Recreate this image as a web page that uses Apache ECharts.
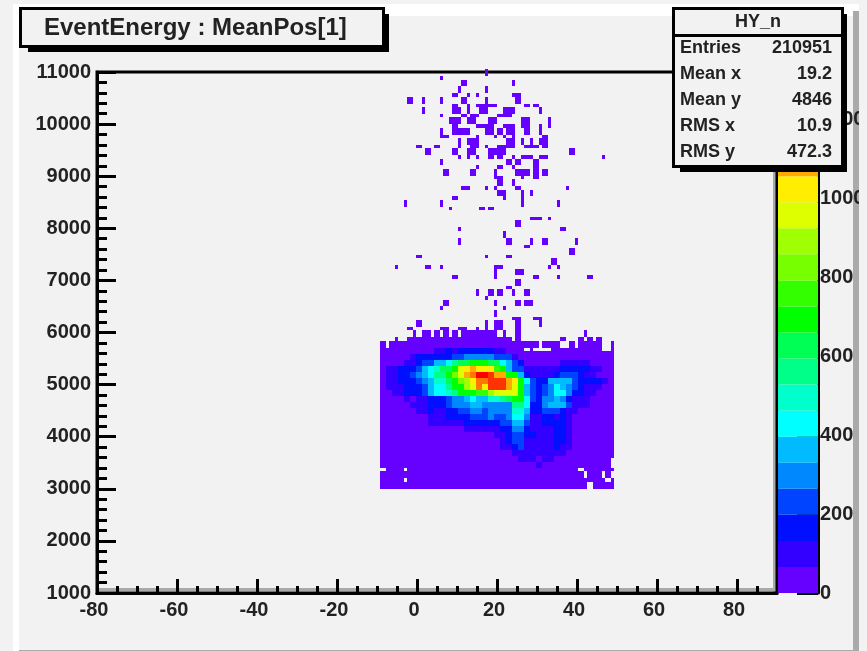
<!DOCTYPE html>
<html>
<head>
<meta charset="utf-8">
<style>html,body{margin:0;padding:0;background:#f2f2f2}#c{width:867px;height:651px}</style>
<script src="https://cdn.jsdelivr.net/npm/echarts@6/dist/echarts.min.js"></script>
</head>
<body>
<div id="c"></div>
<script>
// ---- labels ----
const titleText = 'EventEnergy : MeanPos[1]';
const statName = 'HY_n';
const statLabels = ['Entries', 'Mean x', 'Mean y', 'RMS x', 'RMS y'];
const statValues = ['210951', '19.2', '4846', '10.9', '472.3'];

// ---- axes ----
const xRange = [-80, 90];
const yRange = [1000, 11000];
const zTop = 1319;

// ---- colour levels (one per 1/20 of the z range) ----
const palette = ['#6600ff','#3300ff','#0010ff','#0044ff','#0088ff','#00bbff','#00ffff','#00ffcc','#00ff88','#00ff55',
                 '#00ff00','#33ff00','#77ff00','#a0ff00','#ddff00','#ffee00','#ffaa00','#ff7700','#ff3300','#ff0000'];

// ---- histogram binning (low-count bins are addressed by column and row index) ----
const xStart = -9.25, xStep = 0.75;
const yStart = 11230, yStep = 19.194;

// occupied low-count bins: [row from, row to, [col from, col to], ...]
const lowBins = [
 [9,16,[35,36]],[16,20,[20,21]],[20,26,[27,29],[44,45]],[26,33,[26,27],[35,36]],
 [33,37,[24,26],[29,30],[32,33],[44,47]],
 [37,44,[9,11],[14,15],[20,21],[27,29],[35,36],[45,47]],
 [44,47,[24,26],[29,30],[32,39],[48,50],[51,53]],
 [47,54,[14,15],[24,27],[29,30],[33,36],[41,45],[53,54]],
 [54,57,[20,21],[27,29],[30,33],[39,44]],
 [57,64,[23,27],[29,32],[36,39],[47,50],[56,57]],
 [64,68,[24,26],[32,38],[41,45],[47,50],[53,54],[56,57]],
 [68,75,[20,21],[24,30],[35,38],[39,41],[42,45],[48,50],[53,54]],
 [75,78,[20,23],[32,33],[38,39],[41,42],[44,45],[54,56]],
 [78,85,[26,27],[29,33],[42,45],[47,48],[50,51],[53,56]],
 [85,88,[12,14],[18,20],[26,27],[30,33],[35,36],[39,45],[48,53],[54,56]],
 [88,95,[15,17],[24,26],[29,32],[36,42],[63,65]],
 [95,99,[26,27],[29,30],[32,33],[36,38],[39,41],[44,45],[47,51],[53,56],[74,75]],
 [99,105,[20,21],[42,44],[45,47],[51,53]],
 [105,109,[32,33],[39,41],[44,45],[51,53]],
 [109,116,[21,23],[30,32],[38,39],[45,50],[51,53],[54,56]],
 [116,119,[38,41],[47,48],[51,53]],
 [119,126,[39,41],[44,45]],
 [126,130,[27,30],[35,36],[38,39],[45,47],[62,63]],
 [130,136,[39,42],[47,48],[50,51]],
 [136,140,[24,26],[41,42],[47,48]],
 [140,147,[8,9],[20,21],[47,48],[59,60]],
 [147,150,[23,24],[33,35],[36,38]],
 [157,160,[50,54],[56,57]],
 [160,167,[45,47]],
 [167,171,[26,27],[60,62]],
 [171,178,[41,42]],
 [178,185,[26,27],[42,44],[50,51],[54,56],[65,66]],
 [185,188,[48,50]],
 [188,195,[63,65]],
 [195,198,[12,14],[35,36],[42,44]],
 [198,205,[57,59]],
 [205,209,[5,6],[15,17],[20,21],[38,41],[56,57],[59,60]],
 [209,215,[38,39],[45,48]],
 [215,219,[24,26],[38,39],[51,53],[59,60],[69,71]],
 [219,226,[45,47]],
 [226,229,[42,44]],
 [229,236,[32,33],[36,38],[39,41],[44,45],[48,50]],
 [236,240,[35,36]],
 [240,246,[21,23],[38,39],[45,47],[48,51]],
 [246,250,[20,21],[41,42]],
 [250,257,[38,39]],
 [257,260,[44,47],[51,54]],
 [260,267,[12,14],[35,36],[38,41],[45,47],[53,54]],
 [267,270,[9,11],[20,23],[26,29],[32,33],[35,36],[38,41],[45,47]],
 [270,277,[11,12],[14,17],[18,20],[21,23],[24,26],[27,39],[41,42],[45,47],[68,69]],
 [277,281,[5,6],[9,44],[45,47],[60,62],[66,68],[69,71],[72,74]],
 [281,288,[0,2],[3,51],[51,53],[54,60],[63,65],[66,74],[77,78]],
 [288,291,[0,48],[50,51],[57,74],[77,78]],
 [291,398,[0,78]],
 [398,408,[0,77]],
 [408,411,[2,8],[9,66],[68,78]],
 [411,418,[0,68],[69,74],[75,77]],
 [418,422,[0,8],[9,75],[77,78]],
 [422,429,[0,69],[71,78]]
];

// dense core: colour level per bin (base 20), one string per row, top to bottom
const coreRowStart = 288;
const coreLevels = [
 '000000000112122222211000000000000000000',
 '000001222222334444433310000000000000000',
 '000011233556899aaa996532000000111110000',
 '011222356799aefgfffba533111111222221100',
 '01122345688aceghjjiggaa5211112333211000',
 '011222345779acdfhhiiigfa632255553222210',
 '011122235668aadehfiiigea532346543211100',
 '0011222356678aaabbdeeeea532346642211000',
 '0000101122234456557789aa632445421110000',
 '000001112223444554444488622455531110000',
 '000000112112233443444477522333211000000',
 '000000001112222333433466411221210000000',
 '000000001111112222223355311222210000000',
 '000000000000001111112244211112210000000',
 '000000000000000000011233221112210000000',
 '000000000000000000001233111112210000000',
 '000000000000000000001123111112110000000',
 '000000000000000000000011111111100000000',
 '000000000000000000000001110110000000000',
 '000000000000000000000000001000000000000'
];

const xOf = c => xStart + xStep * c;
const yOf = r => yStart - yStep * r;
const cells = [];
lowBins.forEach(entry => {
  for (let k = 2; k < entry.length; k++) {
    cells.push([xOf(entry[k][0]), xOf(entry[k][1]), yOf(entry[1]), yOf(entry[0]), 0]);
  }
});
coreLevels.forEach((row, j) => {
  for (let i = 0; i < row.length; i++) {
    const level = parseInt(row[i], 20);
    if (level > 0) {
      cells.push([xOf(2 * i), xOf(2 * i + 2), yOf(coreRowStart + 6 * j + 6), yOf(coreRowStart + 6 * j), level]);
    }
  }
});

const FONT = 'Liberation Sans';
const INK = '#222';
const chart = echarts.init(document.getElementById('c'), null, {renderer: 'canvas', width: 867, height: 651});

const bandSeries = palette.map(col => ({
  type: 'bar', xAxisIndex: 1, yAxisIndex: 1, stack: 'z', barWidth: '100%', silent: true,
  itemStyle: {color: col}, data: [zTop / palette.length], z: 1
}));

const rect = (x, y, w, h, fill, z) => ({type: 'rect', shape: {x, y, width: w, height: h}, style: {fill}, z, silent: true});
const txt = (x, y, t, size, align, z, weight) => ({
  type: 'text', x, y, z, silent: true,
  style: {text: t, fontFamily: FONT, fontSize: size, fontWeight: weight || 'bold', fill: INK, align, verticalAlign: 'middle'}
});

const graphics = [
  rect(13, 4, 846, 12, '#ffffff', -2),
  rect(13, 4, 6, 647, '#ffffff', -2),
  rect(19, 650, 834, 1, '#aaaaaa', -2),
  rect(853, 11, 6, 640, '#aaaaaa', -2),
  rect(97, 588, 678, 3, '#aaaaaa', -1),
  rect(773, 71, 3, 521, '#aaaaaa', -1),
  // clip of the z labels at the pad edge
  rect(859, 0, 8, 651, '#f2f2f2', 50),
  // title box
  rect(28, 14, 361, 38, '#000000', 60),
  rect(19, 7, 366, 41, '#000000', 61),
  rect(22, 10, 360, 35, '#f2f2f2', 62),
  txt(44, 28, titleText, 24, 'left', 63),
  // stats box
  rect(680, 14, 167, 158, '#000000', 60),
  rect(672, 7, 172, 161, '#000000', 61),
  rect(675, 10, 166, 155, '#f2f2f2', 62),
  rect(675, 34, 166, 3, '#000000', 63),
  txt(758, 22, statName, 18, 'center', 64)
];
statLabels.forEach((s, i) => {
  graphics.push(txt(680, 48 + i * 26, s, 18, 'left', 64));
  graphics.push(txt(832, 48 + i * 26, statValues[i], 18, 'right', 64));
});

const plain = v => String(v);

chart.setOption({
  animation: false,
  backgroundColor: '#f2f2f2',
  grid: [
    {left: 97, top: 72, width: 680, height: 521, show: true, borderColor: '#000', borderWidth: 3, backgroundColor: 'transparent', z: 0, outerBoundsMode: 'none'},
    {left: 778, top: 72, width: 40, height: 521, outerBoundsMode: 'none'}
  ],
  xAxis: [
    {type: 'value', gridIndex: 0, min: xRange[0], max: xRange[1], interval: 20,
     axisLine: {show: true, onZero: false, lineStyle: {color: '#000', width: 3}},
     axisTick: {show: true, inside: true, length: 14, lineStyle: {color: '#000', width: 3}},
     minorTick: {show: true, splitNumber: 4, length: 7, lineStyle: {color: '#000', width: 3}},
     splitLine: {show: false}, minorSplitLine: {show: false},
     axisLabel: {show: true, showMaxLabel: false, formatter: plain, fontFamily: FONT, fontWeight: 'bold', fontSize: 20, color: INK, margin: 7, padding: [0, 6, 0, 0]}},
    {type: 'category', gridIndex: 1, data: ['z'], show: false}
  ],
  yAxis: [
    {type: 'value', gridIndex: 0, min: yRange[0], max: yRange[1], interval: 1000,
     axisLine: {show: true, onZero: false, lineStyle: {color: '#000', width: 3}},
     axisTick: {show: true, inside: true, length: 19, lineStyle: {color: '#000', width: 3}},
     minorTick: {show: true, splitNumber: 5, length: 10, lineStyle: {color: '#000', width: 3}},
     splitLine: {show: false}, minorSplitLine: {show: false},
     axisLabel: {show: true, formatter: plain, fontFamily: FONT, fontWeight: 'bold', fontSize: 20, color: INK, margin: 6, padding: [4, 0, 0, 0]}},
    {type: 'value', gridIndex: 1, position: 'right', min: 0, max: zTop, interval: 200,
     axisLine: {show: true, onZero: false, lineStyle: {color: '#000', width: 3}},
     axisTick: {show: true, inside: true, length: 21, lineStyle: {color: '#000', width: 3}},
     minorTick: {show: false},
     splitLine: {show: false},
     axisLabel: {show: true, showMaxLabel: false, formatter: plain, fontFamily: FONT, fontWeight: 'bold', fontSize: 20, color: INK, margin: 2, padding: [2, 0, 0, 0]}}
  ],
  series: [
    ...bandSeries,
    {
      type: 'custom', xAxisIndex: 0, yAxisIndex: 0, silent: true, clip: false, z: 5,
      encode: {x: [0, 1], y: [2, 3]},
      data: cells,
      renderItem: (params, api) => {
        const a = api.coord([api.value(0), api.value(3)]);
        const b = api.coord([api.value(1), api.value(2)]);
        const x0 = Math.round(a[0]), y0 = Math.round(a[1]);
        return {type: 'rect', silent: true,
          shape: {x: x0, y: y0, width: Math.round(b[0]) - x0, height: Math.round(b[1]) - y0},
          style: {fill: palette[api.value(4)]}};
      }
    }
  ],
  graphic: {elements: graphics}
});
</script>
</body>
</html>
